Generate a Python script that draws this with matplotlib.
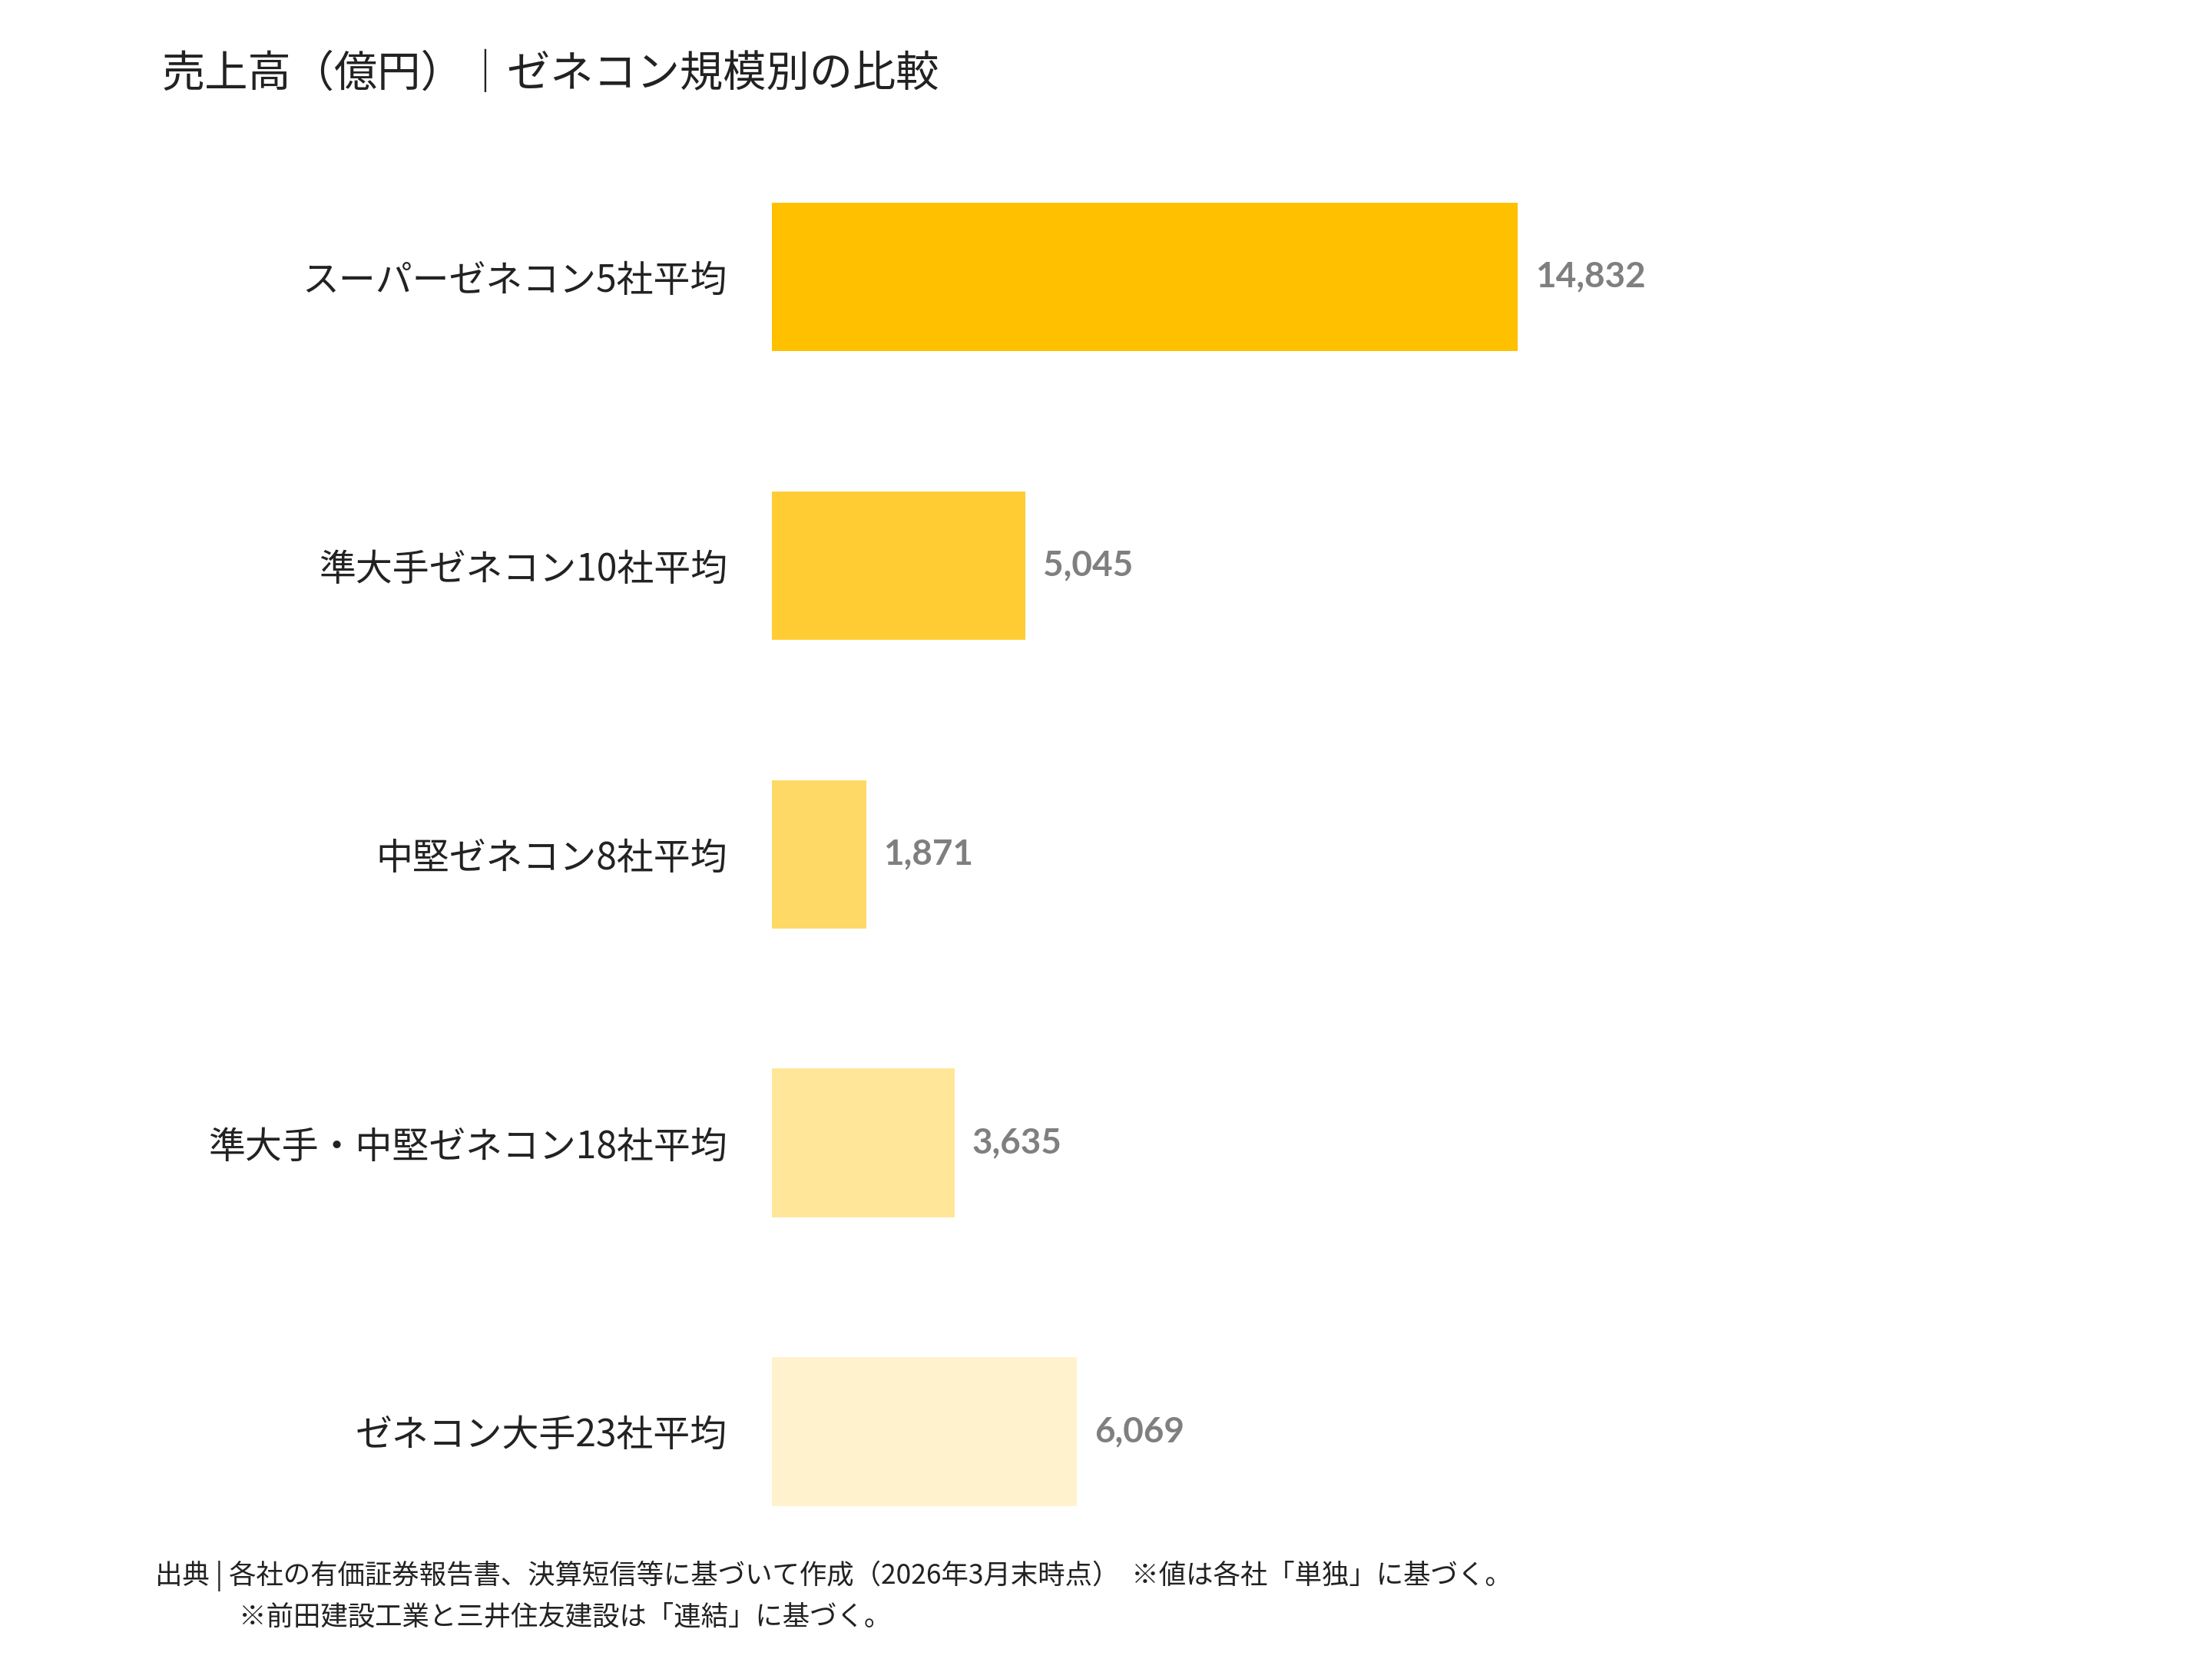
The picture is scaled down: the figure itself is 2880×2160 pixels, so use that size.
import matplotlib.pyplot as plt

plt.rcParams['font.family'] = ['Noto Sans CJK JP', 'DejaVu Sans']

# data
categories = ["スーパーゼネコン5社平均", "準大手ゼネコン10社平均", "中堅ゼネコン8社平均",
              "準大手・中堅ゼネコン18社平均", "ゼネコン大手23社平均"]
values = [14832, 5045, 1871, 3635, 6069]
colors = ["#FFC000", "#FFCC33", "#FFD966", "#FFE699", "#FFF2CC"]

fig = plt.figure(figsize=(9.6, 7.2), dpi=300)
ax = fig.add_axes([0.349, 0.05, 0.551, 0.87])

y = list(range(len(values)))
ax.barh(y, values, height=0.515, color=colors)
ax.set_ylim(len(values) - 0.5, -0.5)
ax.set_xlim(0, 24250)

for yi, v in zip(y, values):
    ax.text(v + 350, yi, f"{v:,}", va="center", ha="left", fontsize=11,
            fontweight="bold", color="#7F7F7F", family=["Lato", "DejaVu Sans"])

ax.set_yticks(y)
ax.set_yticklabels(categories, fontsize=11.5, color="#222222")
ax.tick_params(axis="y", length=0, pad=14)
ax.set_xticks([])
for s in ax.spines.values():
    s.set_visible(False)

fig.text(0.073, 0.955, "売上高（億円）｜ゼネコン規模別の比較", fontsize=13.5,
         color="#222222", va="center")
fig.text(0.07, 0.05, "出典 | 各社の有価証券報告書、決算短信等に基づいて作成（2026年3月末時点）  ※値は各社「単独」に基づく。",
         fontsize=8.5, color="#222222", va="center")
fig.text(0.108, 0.025, "※前田建設工業と三井住友建設は「連結」に基づく。",
         fontsize=8.5, color="#222222", va="center")

fig.savefig("out.png", dpi=300)
